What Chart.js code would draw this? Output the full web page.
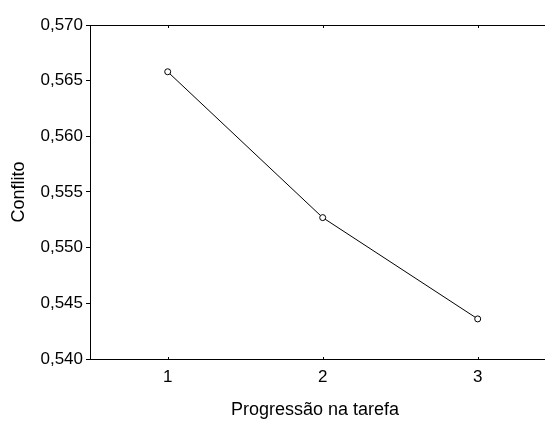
<html>
<head>
	<meta charset="utf-8">
	<script src="https://cdn.jsdelivr.net/npm/chart.js@4/dist/chart.umd.min.js"></script>
	<style>
		body { margin: 0; background: #fff; }
		#wrap { width: 545px; height: 421px; }
	</style>
</head>
<body>
	<div id="wrap"><canvas id="line-chart"></canvas></div>
	<script>
	// progression steps and mean conflict at each step
	var steps = [1, 2, 3];
	var conflito = [0.5658, 0.5527, 0.5436];
	var yTicks = [0.540, 0.545, 0.550, 0.555, 0.560, 0.565, 0.570];

	var points = steps.map(function(s, i) { return { x: s, y: conflito[i] }; });

	// top and bottom frame lines run to the canvas edge, with short inward ticks
	var frame = {
		id: 'frame',
		afterDraw: function(chart) {
			var ctx = chart.ctx, a = chart.chartArea, xs = chart.scales.x;
			ctx.save();
			ctx.strokeStyle = '#000';
			ctx.lineWidth = 1;
			ctx.beginPath();
			ctx.moveTo(a.left, a.top + 0.5);
			ctx.lineTo(chart.width, a.top + 0.5);
			ctx.moveTo(a.right, a.bottom + 0.5);
			ctx.lineTo(chart.width, a.bottom + 0.5);
			steps.forEach(function(s) {
				var px = Math.round(xs.getPixelForValue(s)) + 0.5;
				ctx.moveTo(px, a.top);
				ctx.lineTo(px, a.top + 3);
				ctx.moveTo(px, a.bottom);
				ctx.lineTo(px, a.bottom - 2);
			});
			ctx.stroke();
			ctx.restore();
		}
	};

	var ctx = document.getElementById('line-chart').getContext('2d');
	var chart = new Chart(ctx, {
		type: 'line',
		data: {
			datasets: [{
				data: points,
				borderColor: '#000',
				borderWidth: 1,
				pointRadius: 3,
				pointBackgroundColor: '#fff',
				pointBorderColor: '#000',
				pointBorderWidth: 1,
				tension: 0
			}]
		},
		plugins: [frame],
		options: {
			responsive: true,
			maintainAspectRatio: false,
			animation: false,
			layout: { padding: { top: 25, right: 0, left: 0, bottom: 0 } },
			plugins: {
				legend: { display: false },
				tooltip: { enabled: false }
			},
			scales: {
				x: {
					type: 'linear',
					min: 0.4987,
					max: 3.402,
					afterBuildTicks: function(scale) {
						scale.ticks = steps.map(function(s) { return { value: s }; });
					},
					afterFit: function(scale) { scale.height = 62; },
					grid: { drawOnChartArea: false, tickLength: 0 },
					border: { display: true, color: '#000', width: 1 },
					ticks: {
						color: '#000',
						padding: 8,
						font: { family: 'Liberation Sans, Arial', size: 17 },
						maxRotation: 0
					},
					title: {
						display: true,
						text: 'Progressão na tarefa',
						color: '#000',
						padding: { top: 12, bottom: 0 },
						font: { family: 'Liberation Sans, Arial', size: 18 }
					}
				},
				y: {
					min: 0.540,
					max: 0.570,
					afterBuildTicks: function(scale) {
						scale.ticks = yTicks.map(function(v) { return { value: v }; });
					},
					afterFit: function(scale) { scale.width = 90; },
					grid: { drawOnChartArea: false, tickLength: 4, color: '#000' },
					border: { display: true, color: '#000', width: 1 },
					ticks: {
						color: '#000',
						padding: 3,
						font: { family: 'Liberation Sans, Arial', size: 17 },
						callback: function(v) { return v.toFixed(3).replace('.', ','); }
					},
					title: {
						display: true,
						text: 'Conflito',
						color: '#000',
						padding: { top: 8, bottom: 0 },
						font: { family: 'Liberation Sans, Arial', size: 18 }
					}
				}
			}
		}
	});
	</script>
</body>
</html>
